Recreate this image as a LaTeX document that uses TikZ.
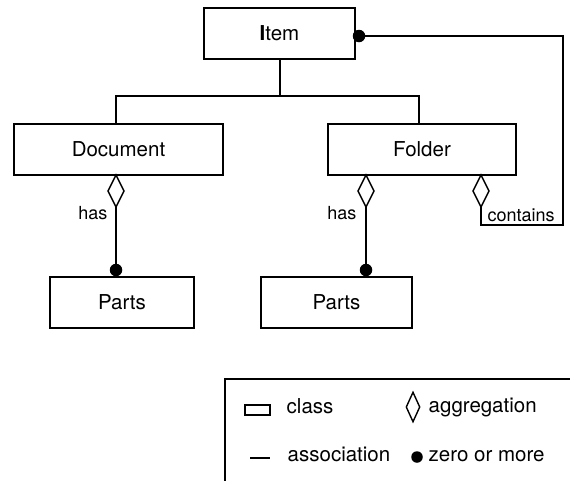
\documentclass[tikz,border=0pt]{standalone}
\usepackage{fontspec}
\setmainfont{TeX Gyre Heros}
\usetikzlibrary{shapes.geometric}
\begin{document}
\begin{tikzpicture}[x=1pt,y=-1pt,line width=1.4pt,
  cls/.style={draw,rectangle,minimum height=51pt,inner sep=0pt,outer sep=0pt,font=\fontsize{20.5}{24}\selectfont},
  aggr/.style={draw,diamond,fill=white,minimum width=16pt,minimum height=32pt,inner sep=0pt,outer sep=0pt},
  many/.style={circle,fill=black,minimum size=12.5pt,inner sep=0pt,outer sep=0pt},
  lbl/.style={font=\fontsize{18}{22}\selectfont,inner sep=0pt},
  leg/.style={font=\fontsize{20.5}{24}\selectfont,inner sep=0pt,anchor=base west}]
\useasboundingbox (0,0) rectangle (570,480);
% classes
\node[cls,minimum width=151pt] (item) at (279.5,33.5) {\textbf{I}tem};
\node[cls,minimum width=209pt] (doc) at (118.5,149.5) {Document};
\node[cls,minimum width=188pt] (folder) at (422,149.5) {Folder};
\node[cls,minimum width=144pt] (parts1) at (122,302.5) {Parts};
\node[cls,minimum width=151pt] (parts2) at (336.5,302.5) {Parts};
% generalisation tree
\coordinate (bus) at (280,96);
\coordinate (busL) at (116,96);
\coordinate (busR) at (419,96);
\draw (item.south -| bus) -- (bus);
\draw (doc.north -| busL) -- (busL) -- (busR) -- (folder.north -| busR);
% aggregations
\node[aggr,anchor=north] (d1) at (116,175) {};
\node[aggr,anchor=north] (d2) at (366,175) {};
\node[aggr,anchor=north] (d3) at (481,175) {};
\node[many] (m1) at (116,270) {};
\node[many] (m2) at (366,270) {};
\node[many] (m3) at (359,36) {};
\draw (d1.south) -- (m1.center);
\draw (d2.south) -- (m2.center);
\coordinate (c1) at (481,225);
\coordinate (c2) at (563,225);
\coordinate (c3) at (563,36);
\draw (d3.south) -- (c1) -- (c2) -- (c3) -- (m3.center);
\node[lbl,anchor=base east] (h1) at (108,219) {has};
\node[lbl,anchor=base east] (h2) at (357,219) {has};
\node[lbl,anchor=base west] (h3) at (487,221) {contains};
% legend
\draw (580,379) -- (225,379) -- (225,490);
\node[draw,rectangle,minimum width=25pt,minimum height=10pt,inner sep=0pt] (lcls) at (257.5,410) {};
\node[leg] (tcls) at (286,413) {class};
\node[draw,diamond,minimum width=14pt,minimum height=30pt,inner sep=0pt] (lagg) at (413,407) {};
\node[leg] (tagg) at (428,412) {aggregation};
\draw (250,458) -- (270,458);
\node[leg] (tass) at (287,461) {association};
\node[many,minimum size=11.5pt] (lmany) at (417,457) {};
\node[leg] (tmany) at (428,461) {zero or more};
\end{tikzpicture}
\end{document}
